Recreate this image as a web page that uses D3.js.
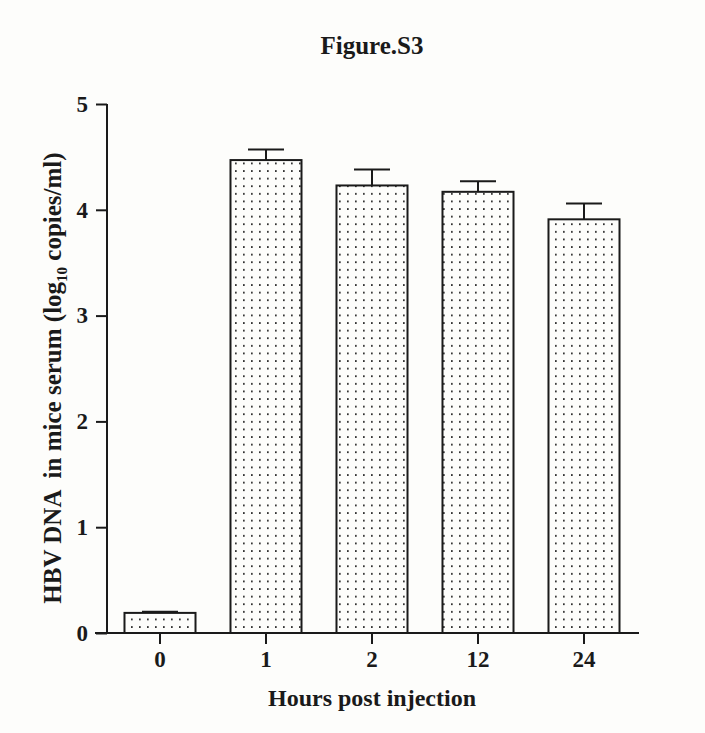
<!DOCTYPE html>
<html>
<head>
<meta charset="utf-8">
<script src="https://cdn.jsdelivr.net/npm/d3@7"></script>
<style>
  body { margin: 0; background: #fdfdfb; }
  svg { display: block; }
  text { font-family: "Liberation Serif", "Times New Roman", serif; font-weight: bold; fill: #1a1a1a; white-space: pre; }
</style>
</head>
<body>
<div id="chart"></div>
<script>
// values
const hours = ["0", "1", "2", "12", "24"];
const meanDNA = [0.19, 4.47, 4.23, 4.17, 3.91];
const errDNA = [0.01, 0.10, 0.15, 0.10, 0.15];
const yTicks = [0, 1, 2, 3, 4, 5];

const W = 705, H = 733;
const margin = { left: 107, right: 68, top: 104, bottom: 100 };

const svg = d3.select("#chart").append("svg")
    .attr("width", W)
    .attr("height", H);

// dotted fill like the original print
const pat = svg.append("defs").append("pattern")
    .attr("id", "dots")
    .attr("patternUnits", "userSpaceOnUse")
    .attr("width", 8)
    .attr("height", 7.6);
pat.append("rect").attr("width", 8).attr("height", 7.6).attr("fill", "#fdfdfb");
pat.append("rect").attr("x", 3).attr("y", 3).attr("width", 1.7).attr("height", 1.7).attr("fill", "#222");

const x = d3.scaleBand()
    .domain(hours)
    .range([margin.left, W - margin.right])
    .paddingInner(0.33)
    .paddingOuter(0.165);

const y = d3.scaleLinear()
    .domain([0, 5])
    .range([H - margin.bottom, margin.top]);

const g = svg.append("g");

// bars
g.selectAll(".bar")
    .data(meanDNA)
    .enter().append("rect")
    .attr("class", "bar")
    .attr("x", (d, i) => x(hours[i]))
    .attr("y", d => y(d))
    .attr("width", x.bandwidth())
    .attr("height", d => y(0) - y(d))
    .attr("fill", "url(#dots)")
    .attr("stroke", "#1a1a1a")
    .attr("stroke-width", 2);

// error bars (upper only)
const eb = g.selectAll(".err")
    .data(meanDNA)
    .enter().append("g")
    .attr("class", "err")
    .attr("stroke", "#1a1a1a")
    .attr("stroke-width", 2);
eb.append("line")
    .attr("x1", (d, i) => x(hours[i]) + x.bandwidth() / 2)
    .attr("x2", (d, i) => x(hours[i]) + x.bandwidth() / 2)
    .attr("y1", d => y(d))
    .attr("y2", (d, i) => y(d + errDNA[i]));
eb.append("line")
    .attr("x1", (d, i) => x(hours[i]) + x.bandwidth() / 2 - 18)
    .attr("x2", (d, i) => x(hours[i]) + x.bandwidth() / 2 + 18)
    .attr("y1", (d, i) => y(d + errDNA[i]))
    .attr("y2", (d, i) => y(d + errDNA[i]));

// axes
const yAxis = svg.append("g")
    .attr("transform", `translate(${margin.left},0)`)
    .call(d3.axisLeft(y).tickValues(yTicks).tickFormat(d3.format("d")).tickSize(11).tickPadding(8));

const xAxis = svg.append("g")
    .attr("transform", `translate(0,${y(0)})`)
    .call(d3.axisBottom(x).tickSize(11).tickPadding(7));

[yAxis, xAxis].forEach(a => {
    a.select(".domain").attr("stroke", "#1a1a1a").attr("stroke-width", 2);
    a.selectAll(".tick line").attr("stroke", "#1a1a1a").attr("stroke-width", 2);
    a.selectAll(".tick text")
        .style("font-family", '"Liberation Serif", serif')
        .style("font-weight", "bold")
        .style("font-size", "23px")
        .attr("fill", "#1a1a1a");
});
// x axis domain runs from the y axis to the right end without outer ticks
xAxis.select(".domain").attr("d", `M${margin.left - 12},0H${W - margin.right + 2}`);
yAxis.select(".domain").attr("d", `M0,${y(5)}V${y(0)}`);

// title
svg.append("text")
    .attr("x", 372)
    .attr("y", 54)
    .attr("text-anchor", "middle")
    .style("font-size", "25px")
    .text("Figure.S3");

// x label
svg.append("text")
    .attr("x", 372)
    .attr("y", 706)
    .attr("text-anchor", "middle")
    .style("font-size", "24px")
    .text("Hours post injection");

// y label with subscript
const yl = svg.append("text")
    .attr("transform", "translate(61,378) rotate(-90)")
    .attr("text-anchor", "middle")
    .style("font-size", "25px");
yl.append("tspan").text("HBV DNA  in mice serum (log");
yl.append("tspan").attr("dy", 6).style("font-size", "15px").text("10");
yl.append("tspan").attr("dy", -6).text(" copies/ml)");
</script>
</body>
</html>
